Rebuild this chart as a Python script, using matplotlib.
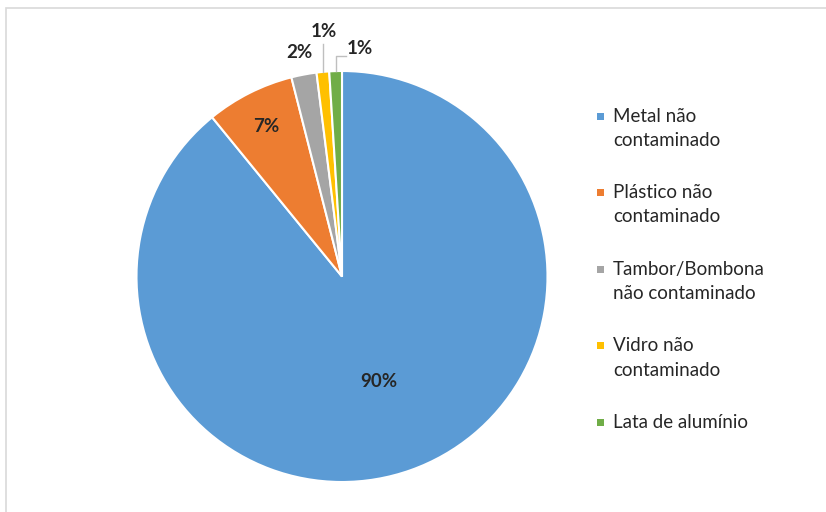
import matplotlib
matplotlib.use("Agg")
import matplotlib.pyplot as plt
import numpy as np
from matplotlib.patches import Rectangle

categories = ["Metal não\ncontaminado", "Plástico não\ncontaminado",
              "Tambor/Bombona\nnão contaminado", "Vidro não\ncontaminado",
              "Lata de alumínio"]
values = [90, 7, 2, 1, 1]
labels = ["90%", "7%", "2%", "1%", "1%"]
colors = ["#5B9BD5", "#ED7D31", "#A5A5A5", "#FFC000", "#70AD47"]

plt.rcParams["font.family"] = ["Lato", "DejaVu Sans"]
TEXT = "#262626"

W, H = 826, 512
fig = plt.figure(figsize=(W / 100, H / 100), dpi=100)
fig.patch.set_facecolor("white")

# outer chart frame
fig.patches.append(Rectangle((6 / W, -0.1), 1.0, (512 - 8) / H + 0.1,
                             transform=fig.transFigure, fill=False,
                             edgecolor="#D9D9D9", linewidth=1.2))

cx, cy, R = 342, 512 - 276.5, 205.5
ax = fig.add_axes([(cx - R) / W, (cy - R) / H, 2 * R / W, 2 * R / H])

wedges, _ = ax.pie(values, colors=colors, startangle=90, counterclock=False,
                   radius=1.0, wedgeprops=dict(edgecolor="white", linewidth=1.5))
ax.set_xlim(-1, 1)
ax.set_ylim(-1, 1)
ax.set_aspect("equal")
ax.axis("off")

# percentage labels
label_r = [0.54, 0.82, 1.11]
fs = 13.5
for i, (w, lab) in enumerate(zip(wedges, labels)):
    mid = np.deg2rad((w.theta1 + w.theta2) / 2)
    ex, ey = np.cos(mid), np.sin(mid)
    if i < 3:
        x, y = label_r[i] * ex, label_r[i] * ey
        ax.text(x, y, lab, ha="center", va="center", fontsize=fs,
                fontweight="bold", color=TEXT, clip_on=False)
    elif i == 3:
        ax.plot([ex * 0.99, ex * 0.99], [ey, 1.13], color="#BFBFBF", lw=1,
                clip_on=False)
        ax.text(ex * 0.99 + 0.005, 1.19, lab, ha="center", va="center",
                fontsize=fs, fontweight="bold", color=TEXT, clip_on=False)
    else:
        ax.plot([ex, ex, ex + 0.05], [ey, 1.075, 1.075], color="#BFBFBF",
                lw=1, clip_on=False)
        ax.text(ex + 0.055, 1.11, lab, ha="left", va="center",
                fontsize=fs, fontweight="bold", color=TEXT, clip_on=False)

# legend: colour square beside the first line of each entry
y0, step, line_h = 116, 76.5, 24.5
sq = 7
for i, (cat, col) in enumerate(zip(categories, colors)):
    ytop = y0 + i * step
    fig.patches.append(Rectangle(((600 - sq / 2) / W, 1 - (ytop + sq / 2) / H),
                                 sq / W, sq / H, transform=fig.transFigure,
                                 facecolor=col, edgecolor="none"))
    for j, line in enumerate(cat.split("\n")):
        fig.text(613 / W, 1 - (ytop + j * line_h) / H, line, ha="left",
                 va="center", fontsize=13.5, color=TEXT)

fig.savefig("out.png", dpi=100, facecolor="white")
